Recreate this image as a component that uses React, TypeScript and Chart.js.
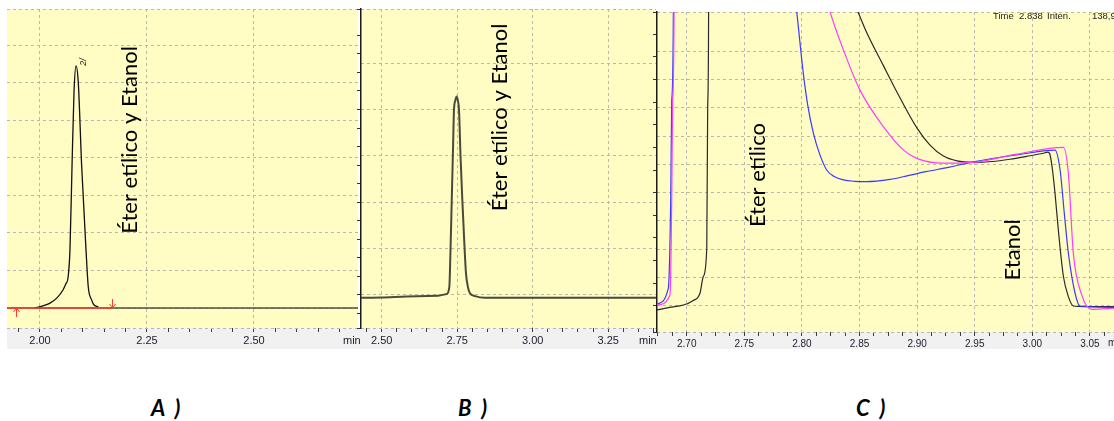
import React, { useEffect, useRef } from 'react';
import { Chart, registerables } from 'chart.js';

Chart.register(...registerables);

// ---------- Panel A: one co-eluting peak ----------
const aRange = [1.9229, 2.743];
const aSignalRange = [-0.533, 7.97];
const aTickLabels = ['2.00', '2.25', '2.50'];
const aBaseTime = [1.9229, 2.743];
const aBaseSignal = [0, 0];
const aPeakTime = [1.9883, 2.005, 2.0234, 2.0397, 2.0537, 2.0607, 2.0654, 2.07, 2.0748, 2.0794, 2.0841, 2.0895, 2.0974, 2.1075, 2.1128, 2.1208, 2.125, 2.1362];
const aPeakSignal = [0, 0.05, 0.13, 0.27, 0.48, 0.65, 0.8, 1.55, 3.77, 5.73, 6.45, 6.0, 3.77, 1.55, 0.56, 0.21, 0.1, 0.03];
const aIntegTime = [1.9229, 2.168];
const aIntegSignal = [0, 0];
const aMarkStart = 1.944;
const aMarkEnd = 2.168;

// ---------- Panel B: one peak on a second column ----------
const bRange = [2.4315, 3.4083];
const bSignalRange = [-0.719, 6.171];
const bTickLabels = ['2.50', '2.75', '3.00', '3.25'];
const bTime = [2.4315, 2.5, 2.583, 2.6875, 2.715, 2.724, 2.728, 2.732, 2.736, 2.7394, 2.744, 2.748, 2.752, 2.756, 2.761, 2.767, 2.773, 2.779, 2.786, 2.7924, 2.809, 2.842, 3.4083];
const bSignal = [-0.065, -0.06, -0.04, -0.02, 0.015, 0.17, 1.0, 2.05, 3.1, 3.99, 4.2, 4.28, 4.2, 3.99, 3.0, 2.05, 1.2, 0.47, 0.15, 0.03, -0.03, -0.065, -0.065];

// ---------- Panel C: zoom on the separation, three runs ----------
const cRange = [2.6742, 3.0709];
const cSignalRange = [-0.918, 10.377];
const cTickLabels = ['2.70', '2.75', '2.80', '2.85', '2.90', '2.95', '3.00', '3.05'];
const cBlackTime = [2.6742, 2.685, 2.697, 2.705, 2.7115, 2.7144, 2.7174, 2.7182, 2.719, 2.7195, 2.8392, 2.8487, 2.8556, 2.8704, 2.8852, 2.8999, 2.9112, 2.9225, 2.9346, 2.9488, 2.965, 2.9806, 2.995, 3.0095, 3.0135, 3.0154, 3.0175, 3.0197, 3.023, 3.027, 3.0313, 3.0356, 3.045, 3.0709];
const cBlackSignal = [-0.14, -0.05, 0.035, 0.18, 0.45, 1.04, 2.04, 7.04, 10.4, 40, 11.3, 10.38, 9.71, 8.51, 7.34, 6.28, 5.68, 5.3, 5.12, 5.07, 5.1, 5.18, 5.28, 5.39, 5.43, 5.33, 4.8, 3.98, 2.5, 1.04, 0.33, 0, -0.02, -0.02];
const cBlueTime = [2.6742, 2.684, 2.6861, 2.687, 2.6884, 2.6889, 2.7938, 2.7955, 2.8012, 2.805, 2.81, 2.8155, 2.8215, 2.828, 2.836, 2.846, 2.856, 2.8765, 2.8921, 2.9076, 2.928, 2.9488, 2.9864, 3.0197, 3.0241, 3.0277, 3.0313, 3.0371, 3.0414, 3.0709];
const cBlueSignal = [0.07, 0.62, 3.74, 7.27, 10.39, 40, 11.0, 10.39, 8.21, 7.1, 6.09, 5.35, 4.8, 4.57, 4.45, 4.4, 4.39, 4.47, 4.6, 4.74, 4.9, 5.09, 5.33, 5.5, 4.8, 3.3, 1.86, 0.45, 0, -0.05];
const cPinkTime = [2.6742, 2.6855, 2.687, 2.6878, 2.689, 2.6895, 2.8205, 2.8244, 2.836, 2.8504, 2.8707, 2.888, 2.8997, 2.9227, 2.9488, 2.9864, 3.027, 3.0313, 3.0356, 3.0429, 3.0516, 3.0709];
const cPinkSignal = [0.035, 0.39, 3.74, 7.27, 10.39, 40, 11.0, 10.39, 9.04, 7.62, 6.33, 5.51, 5.21, 5.04, 5.07, 5.36, 5.6, 4.68, 1.86, 0.39, -0.12, -0.08];

const YELLOW = '#fffdc4';
const GRID = '#b8b8ae';
const LABEL_FONT = 'Lato, "Open Sans", sans-serif';
const NARROW = '"Liberation Sans Narrow", "Liberation Sans", Arial, sans-serif';

type Note =
  | { kind: 'text'; x: number; y: number; text: string; font: string; color: string; rotation: number }
  | { kind: 'arrow'; x: number; from: number; to: number; color: string };

function panelPlugins(notes: Note[]) {
  return [
    {
      id: 'plotBackground',
      beforeDraw(chart: any) {
        const { ctx, chartArea: a } = chart;
        ctx.save();
        ctx.fillStyle = YELLOW;
        ctx.fillRect(a.left, a.top, a.right - a.left, a.bottom - a.top);
        ctx.restore();
      },
    },
    {
      id: 'notes',
      afterDatasetsDraw(chart: any) {
        const { ctx } = chart;
        const xs = chart.scales.x;
        const ys = chart.scales.y;
        notes.forEach((n) => {
          ctx.save();
          if (n.kind === 'text') {
            ctx.translate(xs.getPixelForValue(n.x), ys.getPixelForValue(n.y));
            ctx.rotate(n.rotation);
            ctx.font = n.font;
            ctx.fillStyle = n.color;
            ctx.textAlign = 'center';
            ctx.textBaseline = 'middle';
            ctx.fillText(n.text, 0, 0);
          } else {
            const px = Math.round(xs.getPixelForValue(n.x)) + 0.5;
            const y0 = ys.getPixelForValue(n.from);
            const y1 = ys.getPixelForValue(n.to);
            const dir = Math.sign(y1 - y0);
            ctx.strokeStyle = n.color;
            ctx.lineWidth = 1;
            ctx.beginPath();
            ctx.moveTo(px, y0);
            ctx.lineTo(px, y1);
            ctx.moveTo(px - 3, y1 - dir * 4);
            ctx.lineTo(px, y1);
            ctx.lineTo(px + 3, y1 - dir * 4);
            ctx.stroke();
          }
          ctx.restore();
        });
      },
    },
  ];
}

function series(times: number[], values: number[], color: string, width: number) {
  return {
    data: times.map((t, i) => ({ x: t, y: values[i] })),
    borderColor: color,
    borderWidth: width,
    pointRadius: 0,
    fill: false,
    cubicInterpolationMode: 'monotone' as const,
    xAxisID: 'x',
    yAxisID: 'y',
  };
}

function timeAxis(range: number[], step: number, labels: string[], font: any, height: number) {
  const isMajor = (v: any) => v !== undefined && labels.includes(Number(v).toFixed(2));
  return {
    type: 'linear',
    position: 'bottom',
    min: range[0],
    max: range[1],
    afterFit: (s: any) => {
      s.height = height;
    },
    border: { display: false, dash: [3, 3] },
    grid: {
      color: (c: any) => (isMajor(c.tick && c.tick.value) ? GRID : 'rgba(0,0,0,0)'),
      drawTicks: true,
      tickLength: 4,
      tickColor: '#3c3c3c',
      tickWidth: 1,
      lineWidth: 1,
    },
    ticks: {
      stepSize: step,
      includeBounds: false,
      autoSkip: false,
      maxRotation: 0,
      minRotation: 0,
      padding: 2,
      font,
      color: '#1c1c2c',
      callback: (v: any) => (isMajor(v) ? Number(v).toFixed(2) : ''),
    },
  };
}

function gridAxis(range: number[]) {
  return {
    type: 'linear',
    position: 'left',
    min: range[0],
    max: range[1],
    afterFit: (s: any) => {
      s.width = 0;
    },
    border: { display: false, dash: [3, 3] },
    grid: { color: GRID, drawTicks: false, lineWidth: 1 },
    ticks: { display: false, stepSize: 1 },
  };
}

function frameAxis(range: number[], step: number, width: number) {
  return {
    type: 'linear',
    position: 'left',
    min: range[0],
    max: range[1],
    afterFit: (s: any) => {
      s.width = width;
    },
    border: { display: true, color: '#1a1a1a', width: 1.5 },
    grid: { drawOnChartArea: false, drawTicks: true, tickLength: 4, tickColor: '#333', color: '#333' },
    ticks: { display: false, stepSize: step },
  };
}

function baseOptions(padding: any, scales: any) {
  return {
    responsive: false,
    animation: false,
    events: [],
    layout: { padding },
    plugins: { legend: { display: false }, tooltip: { enabled: false } },
    scales,
  };
}

const textFont = `22px ${LABEL_FONT}`;
const up = -Math.PI / 2;

function configA(): any {
  return {
    type: 'line',
    data: {
      datasets: [
        series(aIntegTime, aIntegSignal, '#ff3b30', 1.5),
        series(aPeakTime, aPeakSignal, '#111111', 1.3),
        series(aBaseTime, aBaseSignal, '#4e4e3c', 1.5),
      ],
    },
    options: baseOptions(
      { left: 7, top: 9, right: 1, bottom: 0 },
      {
        x: timeAxis(aRange, 0.05, aTickLabels, { family: '"Liberation Sans", Arial, sans-serif', size: 11 }, 22),
        y: gridAxis(aSignalRange),
      }
    ),
    plugins: panelPlugins([
      { kind: 'text', x: 2.2103, y: 4.48, text: 'Éter etílico y Etanol', font: textFont, color: '#000', rotation: up },
      { kind: 'text', x: 2.1005, y: 6.56, text: '2/', font: 'italic 9px "Liberation Sans", Arial', color: '#222', rotation: up },
      { kind: 'arrow', x: aMarkStart, from: -0.24, to: 0, color: '#ff3b30' },
      { kind: 'arrow', x: aMarkEnd, from: 0.24, to: 0, color: '#ff3b30' },
    ]),
  };
}

function configB(): any {
  return {
    type: 'line',
    data: { datasets: [series(bTime, bSignal, '#4a4a3a', 2)] },
    options: baseOptions(
      { left: 0, top: 9, right: 0, bottom: 0 },
      {
        x: timeAxis(bRange, 0.05, bTickLabels, { family: '"Liberation Sans", Arial, sans-serif', size: 11 }, 22),
        y: gridAxis(bSignalRange),
        frame: frameAxis(bSignalRange, 0.4, 9),
      }
    ),
    plugins: panelPlugins([
      { kind: 'text', x: 2.8917, y: 3.83, text: 'Éter etílico y Etanol', font: textFont, color: '#000', rotation: up },
    ]),
  };
}

function configC(): any {
  return {
    type: 'line',
    data: {
      datasets: [
        series(cPinkTime, cPinkSignal, '#ff3cff', 1.2),
        series(cBlueTime, cBlueSignal, '#3a3aff', 1.2),
        series(cBlackTime, cBlackSignal, '#2a2a2a', 1.2),
      ],
    },
    options: baseOptions(
      { left: 0, top: 12, right: 0, bottom: 0 },
      {
        x: timeAxis(cRange, 0.0125, cTickLabels, { family: NARROW, size: 10 }, 20),
        y: gridAxis(cSignalRange),
        frame: frameAxis(cSignalRange, 0.8, 11),
      }
    ),
    plugins: panelPlugins([
      { kind: 'text', x: 2.7619, y: 4.62, text: 'Éter etílico', font: textFont, color: '#000', rotation: up },
      { kind: 'text', x: 2.9833, y: 1.98, text: 'Etanol', font: textFont, color: '#000', rotation: up },
    ]),
  };
}

function ChartCanvas({ build, left, top, width, height }: { build: () => any; left: number; top: number; width: number; height: number }) {
  const ref = useRef<HTMLCanvasElement | null>(null);
  useEffect(() => {
    if (!ref.current) return;
    const chart = new Chart(ref.current, build());
    return () => chart.destroy();
  }, [build]);
  return (
    <canvas
      ref={ref}
      width={width}
      height={height}
      style={{ position: 'absolute', left, top, width, height }}
    />
  );
}

const small: React.CSSProperties = {
  position: 'absolute',
  fontFamily: '"Liberation Sans", Arial, sans-serif',
  fontSize: 11,
  color: '#1c1c2c',
  lineHeight: '12px',
  whiteSpace: 'nowrap',
};

const caption: React.CSSProperties = {
  position: 'absolute',
  fontFamily: LABEL_FONT,
  fontWeight: 700,
  fontStyle: 'italic',
  fontSize: 22,
  lineHeight: '26px',
  wordSpacing: 5,
  color: '#000',
  whiteSpace: 'nowrap',
};

const header: React.CSSProperties = {
  position: 'absolute',
  fontFamily: NARROW,
  fontSize: 9.5,
  color: '#222',
  whiteSpace: 'nowrap',
  lineHeight: '12px',
  top: 0,
};

export default function App() {
  return (
    <div style={{ position: 'fixed', left: 0, top: 0, width: 1114, height: 421, background: '#fff', overflow: 'hidden' }}>
      <div style={{ position: 'absolute', left: 7, top: 328, width: 1107, height: 21, background: '#f1f1f1' }} />
      <ChartCanvas build={configA} left={0} top={0} width={359} height={350} />
      <ChartCanvas build={configB} left={352} top={0} width={304} height={350} />
      <ChartCanvas build={configC} left={646} top={0} width={468} height={352} />
      <span style={{ ...small, left: 343, top: 334 }}>min</span>
      <span style={{ ...small, left: 639, top: 334 }}>min</span>
      <span style={{ ...small, left: 1108, top: 337, fontFamily: NARROW, fontSize: 10 }}>min</span>
      <div style={{ position: 'absolute', left: 990, top: 10 }}>
        <span style={{ ...header, left: 3 }}>Time</span>
        <span style={{ ...header, left: 29 }}>2.838</span>
        <span style={{ ...header, left: 57 }}>Inten.</span>
        <span style={{ ...header, left: 102 }}>138,92</span>
      </div>
      <span style={{ ...caption, left: 151, top: 395 }}>A )</span>
      <span style={{ ...caption, left: 458, top: 395 }}>B )</span>
      <span style={{ ...caption, left: 856, top: 395 }}>C )</span>
    </div>
  );
}
